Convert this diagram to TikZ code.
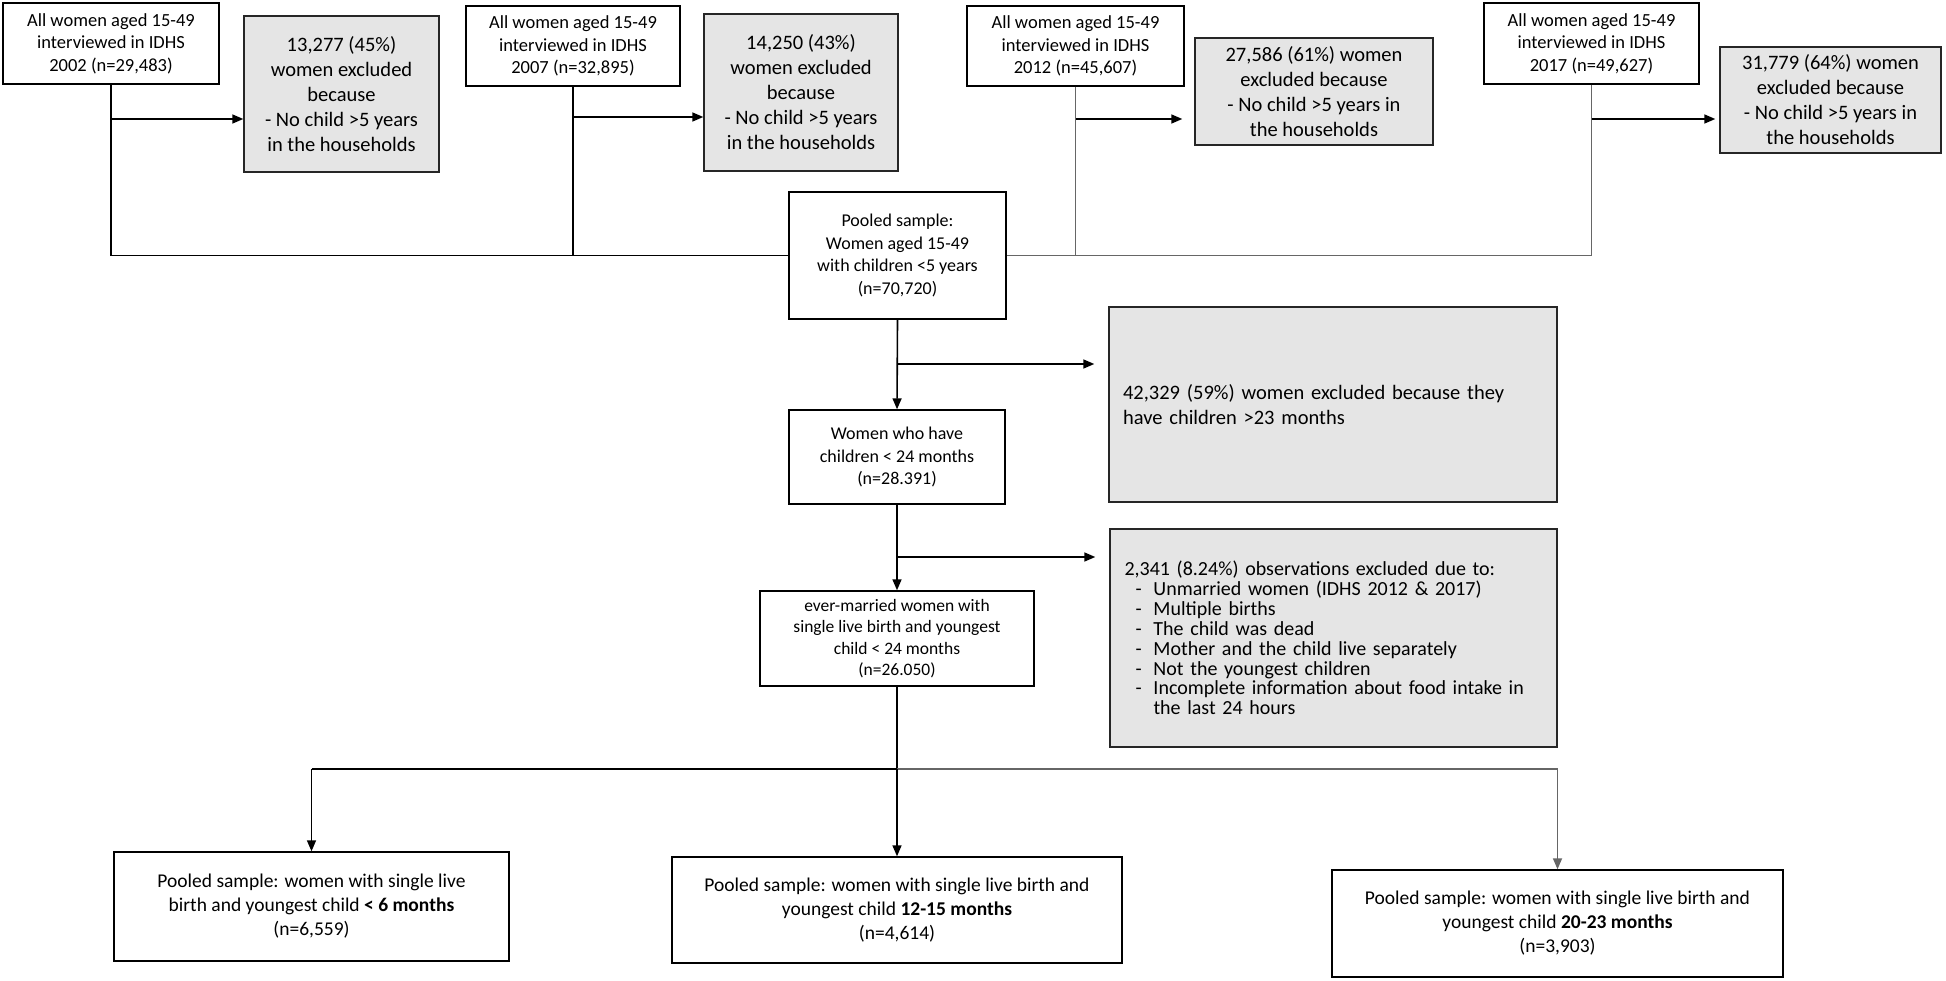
\documentclass[tikz,border=0pt]{standalone}
\usepackage{fontspec}
\setmainfont{Carlito}
\usetikzlibrary{arrows.meta,calc}
\begin{document}
\begin{tikzpicture}[x=1pt,y=-1pt,
  wbox/.style={draw=black, line width=1.4pt, fill=white, align=center, inner sep=0pt},
  gbox/.style={draw=black!85, line width=1.4pt, fill=gray!20, align=center, inner sep=0pt},
  topfont/.style={font=\fontsize{18.5}{22.5}\selectfont},
  exfont/.style={font=\fontsize{20.5}{25}\selectfont},
  midfont/.style={font=\fontsize{18}{22.5}\selectfont},
  botfont/.style={font=\fontsize{19.5}{24}\selectfont},
  conn/.style={line width=1.6pt, draw=black},
  gconn/.style={line width=1.6pt, draw=black!60},
  arr/.style={conn, -{Triangle[length=11pt,width=9pt]}},
  garr/.style={gconn, -{Triangle[length=11pt,width=9pt]}}]
\useasboundingbox (0,0) rectangle (1946,981);

% top row
\node[wbox, topfont, minimum width=216, minimum height=81] (a1) at (111,43.5)
  {All women aged 15-49\\interviewed in IDHS\\2002 (n=29,483)};
\node[gbox, exfont, minimum width=195, minimum height=156] (e1) at (341.5,94)
  {13,277 (45\%)\\women excluded\\because\\- No child >5 years\\in the households};
\node[wbox, topfont, minimum width=214, minimum height=80] (a2) at (573,46)
  {All women aged 15-49\\interviewed in IDHS\\2007 (n=32,895)};
\node[gbox, exfont, minimum width=194, minimum height=157] (e2) at (801,92.5)
  {14,250 (43\%)\\women excluded\\because\\- No child >5 years\\in the households};
\node[wbox, topfont, minimum width=217, minimum height=80] (a3) at (1075.5,46)
  {All women aged 15-49\\interviewed in IDHS\\2012 (n=45,607)};
\node[gbox, exfont, minimum width=238, minimum height=107] (e3) at (1314,91.5)
  {27,586 (61\%) women\\excluded because\\- No child >5 years in\\the households};
\node[wbox, topfont, minimum width=215, minimum height=81] (a4) at (1591.5,43.5)
  {All women aged 15-49\\interviewed in IDHS\\2017 (n=49,627)};
\node[gbox, exfont, minimum width=221, minimum height=106] (e4) at (1830.5,100)
  {31,779 (64\%) women\\excluded because\\- No child >5 years in\\the households};

% middle column
\node[wbox, midfont, minimum width=217, minimum height=127] (pool) at (897.5,255.5)
  {Pooled sample:\\Women aged 15-49\\with children <5 years\\(n=70,720)};
\node[wbox, midfont, minimum width=216, minimum height=94] (who) at (897,457)
  {Women who have\\children < 24 months\\(n=28.391)};
\node[gbox, exfont, minimum width=448, minimum height=195, align=left, text width=420] (g42) at (1333,404.5)
  {42,329 (59\%) women excluded because they\\have children >23 months};
\node[wbox, font=\fontsize{17.5}{21.5}\selectfont, minimum width=274, minimum height=95] (ever) at (897,638.5)
  {ever-married women with\\single live birth and youngest\\child < 24 months\\(n=26.050)};
\node[gbox, font=\fontsize{20}{19.9}\selectfont, minimum width=447, minimum height=218, align=left, text width=418] (g23) at (1333.5,638)
  {2,341 (8.24\%) observations excluded due to:\\
   \hspace*{11pt}\makebox[18pt][l]{-}Unmarried women (IDHS 2012 \& 2017)\\
   \hspace*{11pt}\makebox[18pt][l]{-}Multiple births\\
   \hspace*{11pt}\makebox[18pt][l]{-}The child was dead\\
   \hspace*{11pt}\makebox[18pt][l]{-}Mother and the child live separately\\
   \hspace*{11pt}\makebox[18pt][l]{-}Not the youngest children\\
   \hspace*{11pt}\makebox[18pt][l]{-}Incomplete information about food intake in\\
   \hspace*{29pt}the last 24 hours};

% bottom row
\node[wbox, botfont, minimum width=395, minimum height=109] (bl) at (311.5,906.5)
  {Pooled sample: women with single live\\birth and youngest child \textbf{< 6 months}\\(n=6,559)};
\node[wbox, botfont, minimum width=450, minimum height=106] (bm) at (897,910)
  {Pooled sample: women with single live birth and\\youngest child \textbf{12-15 months}\\(n=4,614)};
\node[wbox, botfont, minimum width=451, minimum height=107] (br) at (1557.5,923.5)
  {Pooled sample: women with single live birth and\\youngest child \textbf{20-23 months}\\(n=3,903)};

% helper coordinates
\coordinate (ya) at (0,119);
\coordinate (yb) at (0,117);
\coordinate (yc) at (0,364);
\coordinate (yd) at (0,557);
\coordinate (ye) at (0,769);

% top connectors
\draw[conn] (a1.south) -- (a1.south |- pool.west) -- (pool.west);
\draw[conn] (a2.south) -- (a2.south |- pool.west);
\draw[gconn] (a3.south) -- (a3.south |- pool.east);
\draw[gconn] (a4.south) -- (a4.south |- pool.east) -- (pool.east);
\draw[arr] (a1.south |- ya) -- (e1.west |- ya);
\draw[arr] (a2.south |- yb) -- (e2.west |- yb);
\draw[arr, shorten >=12pt] (a3.south |- ya) -- (e3.west |- ya);
\draw[arr, shorten >=4pt] (a4.south |- ya) -- (e4.west |- ya);

% middle connectors
\draw[arr] (pool.south) -- (who.north);
\draw[arr, shorten >=14pt] (pool.south |- yc) -- (g42.west |- yc);
\draw[arr] (who.south) -- (ever.north);
\draw[arr, shorten >=14pt] (who.south |- yd) -- (g23.west |- yd);

% bottom connectors
\draw[conn] (ever.south) -- (ever.south |- ye);
\draw[arr] (bl.north |- ye) -- (bl.north);
\draw[conn] (bl.north |- ye) -- (ever.south |- ye);
\draw[gconn] (ever.south |- ye) -- (br.north |- ye);
\draw[arr] (bm.north |- ye) -- (bm.north);
\draw[garr] (br.north |- ye) -- (br.north);
\end{tikzpicture}
\end{document}
